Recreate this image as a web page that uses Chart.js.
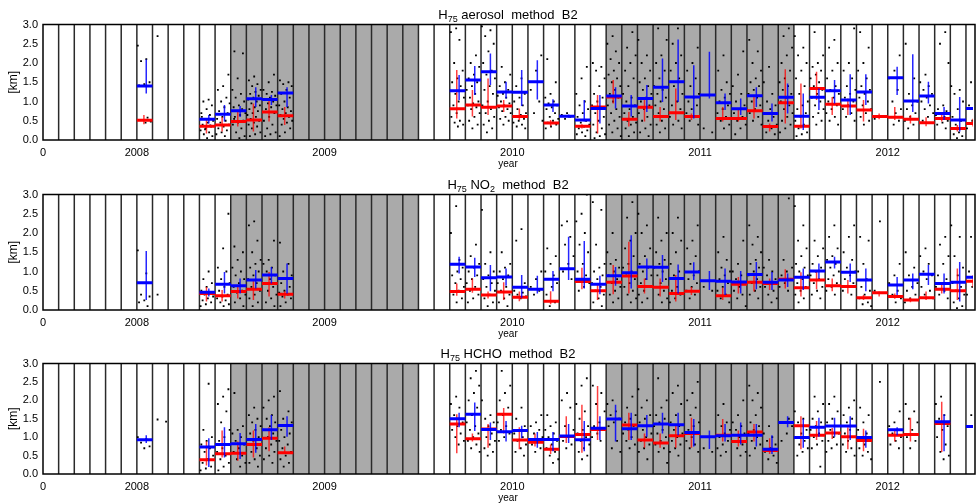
<!DOCTYPE html>
<html>
<head>
<meta charset="utf-8">
<script src="https://cdn.jsdelivr.net/npm/chart.js@4.4.0/dist/chart.umd.min.js"></script>
<style>
html, body { margin: 0; padding: 0; background: #fff; width: 977px; height: 504px; overflow: hidden; }
canvas { position: absolute; left: 0; }
</style>
</head>
<body>
<canvas id="c1" width="977" height="170" style="top:0px"></canvas>
<canvas id="c2" width="977" height="170" style="top:170px"></canvas>
<canvas id="c3" width="977" height="165" style="top:339px"></canvas>
<script>
// eje x: meses desde julio 2007
const xTickValues = [0, 6, 18, 30, 42, 54];
const xTickLabels = ['0', '2008', '2009', '2010', '2011', '2012'];
const xMax = 59.45;
const shadedPeriods = [[12, 24], [36, 48]];

// --- aerosol ---
const aerMonths = [6,10,11,12,13,14,15,26,27,28,29,30,31,32,33,34,35,36,37,38,39,40,41,42,43,44,45,46,47,48,49,50,51,52,53,54,55,56,57,58,59];
const aerBlue   = [1.40,0.54,0.67,0.76,1.07,1.05,1.22,1.28,1.56,1.77,1.25,1.24,1.51,0.91,0.62,0.52,0.82,1.14,0.88,1.08,1.37,1.51,1.12,1.17,0.97,0.81,1.15,0.69,1.11,0.62,1.11,1.28,1.04,1.25,null,1.62,1.01,1.14,0.69,0.52,0.82];
const aerBlueLo = [1.21,0.43,0.48,0.60,0.86,0.91,0.86,1.04,1.17,1.43,1.08,0.88,1.05,0.73,0.58,0.48,0.43,0.82,0.61,0.73,0.99,0.99,0.56,1.08,0.78,0.65,0.86,0.48,0.69,0.26,0.78,0.95,0.65,0.91,null,1.17,0.73,0.95,0.52,0.22,0.60];
const aerBlueHi = [2.09,0.65,0.91,0.88,1.37,1.17,1.37,1.69,1.92,2.25,1.51,1.82,2.07,1.06,0.66,1.04,1.17,1.37,1.17,1.43,2.12,2.61,1.94,2.29,1.21,1.08,1.37,0.95,1.47,1.21,1.34,1.56,1.71,1.71,null,1.90,2.23,1.51,0.86,1.12,1.00];
const aerRed    = [0.51,0.36,0.39,0.48,0.52,0.73,0.63,0.81,0.91,0.85,0.88,0.61,null,0.44,null,0.36,0.86,1.12,0.54,0.85,0.61,0.71,0.61,null,0.56,0.56,0.76,0.35,0.97,0.36,1.34,0.93,0.88,0.78,0.61,0.59,0.54,0.45,0.56,0.30,0.43];
const aerRedLo  = [0.41,0.17,0.22,0.35,0.22,0.48,0.39,0.56,0.61,0.65,0.73,0.52,null,0.36,null,0.30,0.17,0.95,0.35,0.48,0.48,0.52,0.52,null,0.48,0.48,0.56,0.22,0.43,0.30,1.04,0.65,0.65,0.48,0.54,0.52,0.43,0.36,0.48,0.22,0.35];
const aerRedHi  = [0.65,0.56,0.59,0.78,0.95,1.04,0.86,1.82,1.30,1.60,1.04,0.82,null,0.52,null,0.41,1.17,1.56,0.73,1.12,0.86,1.34,0.69,null,0.86,0.78,1.12,0.43,1.84,1.47,1.77,1.12,1.08,1.04,0.69,0.86,0.65,0.59,0.65,0.39,0.55];
const aerDotMonths = [6,7,10,11,12,13,14,15,26,27,28,29,30,31,32,33,34,35,36,37,38,39,40,41,42,43,44,45,46,47,48,49,50,51,52,53,54,55,56,57,58,59];
const aerDots = [
  [2.45,2.1,2.05,1.5,1.45,1.42,0.58,0.52,0.48,0.45],
  [2.7],
  [1.05,1.0,0.9,0.8,0.7,0.65,0.55,0.5,0.45,0.4,0.35,0.3,0.25,0.2,0.15,0.1,0.05,0.6,0.38,0.28],
  [1.7,1.4,1.3,1.1,1.0,0.95,0.85,0.75,0.7,0.6,0.55,0.5,0.45,0.4,0.35,0.3,0.25,0.2,0.15,0.1],
  [2.3,2.25,1.6,1.3,1.2,1.1,1.0,0.9,0.85,0.8,0.75,0.7,0.65,0.6,0.5,0.45,0.4,0.3,0.2,0.1,0.05,0.55],
  [1.65,1.55,1.45,1.4,1.3,1.25,1.2,1.15,1.1,1.05,1.0,0.95,0.9,0.85,0.8,0.75,0.7,0.65,0.6,0.55,0.5,0.45,0.4,0.35,0.3,0.2,0.15,0.1],
  [1.7,1.5,1.3,1.25,1.2,1.15,1.1,1.05,1.0,0.95,0.9,0.85,0.8,0.7,0.6,0.5,0.4,0.3,0.2,0.15,0.1],
  [1.55,1.5,1.45,1.4,1.3,1.2,1.1,1.0,0.9,0.85,0.8,0.75,0.7,0.65,0.6,0.55,0.5,0.45,0.4,0.3,0.2,0.1],
  [2.9,2.8,2.6,2.0,1.8,1.6,1.5,1.4,1.2,1.1,1.0,0.9,0.8,0.7,0.6,0.5,0.45,0.4,0.35],
  [2.2,2.0,1.9,1.7,1.6,1.5,1.4,1.3,1.2,1.1,1.0,0.95,0.9,0.85,0.8,0.7,0.6,0.5,0.4,0.3],
  [2.95,2.85,2.7,2.5,2.3,2.0,1.8,1.7,1.6,1.4,1.3,1.2,1.0,0.9,0.8,0.7,0.6,0.5,0.4,0.3,0.2],
  [1.9,1.7,1.5,1.4,1.3,1.2,1.15,1.1,1.0,0.95,0.9,0.85,0.8,0.75,0.7,0.6,0.55,0.5,0.4],
  [1.6,1.4,1.2,1.1,1.0,0.9,0.8,0.7,0.65,0.6,0.55,0.5,0.45,0.4,0.35,0.3],
  [2.2,1.8,1.3,1.0,0.7,0.5],
  [2.1,1.5,1.2,1.1,1.0,0.95,0.9,0.85,0.8,0.7,0.6,0.55,0.5,0.45,0.4,0.35,0.3],
  [0.7,0.65,0.6,0.55],
  [1.9,1.6,1.2,1.0,0.9,0.8,0.7,0.6,0.5,0.45,0.4,0.35,0.3,0.25,0.2,0.15,0.1],
  [2.0,1.9,1.8,1.6,1.4,1.2,1.1,1.0,0.9,0.8,0.7,0.6,0.5,0.4,0.3,0.2,0.15,0.1,0.05],
  [2.7,2.5,2.3,2.1,2.0,1.8,1.7,1.6,1.5,1.4,1.3,1.2,1.1,1.0,0.9,0.8,0.7,0.6,0.5,0.4,0.3,0.2,0.1],
  [2.8,2.4,2.2,2.0,1.8,1.6,1.4,1.2,1.1,1.0,0.9,0.8,0.7,0.6,0.5,0.45,0.4,0.3,0.2,0.1],
  [2.6,2.2,2.0,1.8,1.6,1.5,1.4,1.3,1.2,1.1,1.0,0.9,0.8,0.7,0.6,0.5,0.4,0.3,0.2,0.1],
  [2.9,2.6,2.2,2.0,1.8,1.6,1.4,1.3,1.2,1.1,1.0,0.9,0.8,0.7,0.6,0.5,0.4,0.3,0.2],
  [2.9,2.5,2.2,2.0,1.8,1.6,1.4,1.2,1.0,0.9,0.8,0.7,0.6,0.5,0.4,0.3],
  [2.4,2.0,1.8,1.6,1.4,1.2,1.1,1.0,0.9,0.8,0.7,0.6,0.5,0.4],
  [0.3,0.2],
  [2.2,1.8,1.5,1.3,1.2,1.1,1.0,0.9,0.8,0.7,0.6,0.5,0.4,0.3],
  [2.3,1.7,1.4,1.2,1.0,0.9,0.8,0.7,0.6,0.5,0.4,0.3,0.15],
  [2.6,2.3,2.0,1.8,1.6,1.5,1.4,1.3,1.2,1.1,1.0,0.9,0.8,0.7,0.6,0.5,0.4],
  [1.9,1.5,1.2,1.0,0.9,0.8,0.7,0.6,0.5,0.4,0.3,0.2,0.15],
  [2.9,2.7,2.4,2.2,2.0,1.8,1.6,1.5,1.4,1.3,1.2,1.1,1.0,0.9,0.8,0.7,0.6,0.5,0.4,0.3,0.2],
  [2.7,2.4,2.2,2.0,1.8,1.6,1.4,1.2,1.0,0.9,0.8,0.7,0.6,0.5,0.4,0.3,0.2,0.15,0.1],
  [2.8,2.2,2.0,1.9,1.8,1.7,1.6,1.5,1.4,1.3,1.2,1.1,1.0,0.9,0.8,0.7,0.6,0.5,0.4],
  [2.6,2.4,2.0,1.8,1.6,1.4,1.3,1.2,1.1,1.0,0.9,0.8,0.7,0.6,0.5,0.4],
  [2.9,2.0,1.8,1.6,1.4,1.3,1.2,1.1,1.0,0.9,0.8,0.7,0.6,0.5],
  [2.8,2.4,2.0,1.8,1.6,1.4,1.3,1.2,1.1,1.0,0.9,0.8,0.7,0.6,0.5,0.4],
  [0.6,0.55],
  [2.2,1.8,1.6,1.3,1.0,0.8,0.7,0.6,0.5,0.4],
  [2.5,1.6,1.2,1.0,0.9,0.8,0.7,0.6,0.5,0.4,0.3],
  [1.7,1.5,1.4,1.3,1.2,1.1,1.0,0.9,0.8,0.7,0.6,0.5],
  [2.8,2.5,2.0,0.9,0.8,0.75,0.7,0.65,0.6,0.55,0.5,0.45,0.4,0.3],
  [1.4,1.3,1.2,1.0,0.8,0.6,0.5,0.4,0.3,0.2,0.15,0.1,0.05],
  [1.5,1.3,1.1,0.9,0.7,0.5,0.3]
];

// --- NO2 ---
const no2Months = aerMonths;
const no2Blue   = [0.71,0.46,0.67,0.63,0.78,0.91,0.82,1.19,1.12,0.84,0.86,0.59,0.54,0.80,1.07,0.80,0.67,0.89,0.97,1.12,1.11,0.82,0.99,0.76,0.75,0.73,0.92,0.72,0.78,0.85,1.01,1.25,0.98,0.78,null,0.65,0.78,0.93,0.69,0.72,0.85];
const no2BlueLo = [0.26,0.35,0.43,0.43,0.56,0.69,0.43,0.95,0.86,0.49,0.63,0.32,0.43,0.49,0.78,0.56,0.41,0.63,0.56,0.78,0.73,0.43,0.78,0.52,0.39,0.43,0.54,0.52,0.60,0.52,0.82,1.08,0.73,0.49,null,0.39,0.54,0.65,0.43,0.22,0.62];
const no2BlueHi = [1.53,0.56,0.99,0.82,1.04,1.12,1.21,1.38,1.36,1.17,1.08,0.91,0.89,1.01,1.90,1.79,0.89,1.12,1.94,1.34,1.43,1.18,1.24,1.01,1.08,1.01,1.25,0.99,0.95,1.08,1.21,1.38,1.21,1.08,null,0.86,0.95,1.17,0.95,1.25,1.05];
const no2Red    = [null,0.43,0.37,0.48,0.54,0.69,0.41,0.48,0.54,0.39,0.47,0.33,null,0.23,null,0.74,0.50,0.72,0.88,0.61,0.59,0.43,0.49,null,0.37,0.67,0.72,0.69,0.80,0.58,0.78,0.63,0.61,0.32,0.45,0.35,0.26,0.32,0.54,0.50,0.75];
const no2RedLo  = [null,0.22,0.22,0.30,0.26,0.35,0.30,0.37,0.45,0.30,0.26,0.23,null,0.15,null,0.54,0.26,0.41,0.43,0.43,0.35,0.22,0.39,null,0.26,0.43,0.48,0.52,0.56,0.35,0.54,0.49,0.43,0.26,0.35,0.29,0.20,0.26,0.43,0.26,0.60];
const no2RedHi  = [null,0.60,0.52,0.65,0.78,0.99,0.49,0.69,0.82,0.48,0.72,0.48,null,0.49,null,1.10,0.69,1.17,1.77,0.82,0.82,0.91,0.60,null,0.58,0.86,0.91,0.82,1.06,0.98,0.99,0.82,0.78,0.39,0.48,0.43,0.32,0.48,0.65,1.08,0.90];
const no2DotMonths = aerDotMonths;
const no2Dots = [
  [1.55,0.95,0.4,0.35,0.25,0.2,0.1],
  [0.4],
  [1.0,0.8,0.7,0.6,0.5,0.45,0.4,0.35,0.3,0.25,0.2,0.15,0.1],
  [2.5,1.6,1.1,1.0,0.8,0.7,0.6,0.5,0.4,0.35,0.3,0.25,0.2,0.15,0.1],
  [1.65,1.5,1.3,1.1,1.0,0.9,0.8,0.7,0.6,0.5,0.45,0.4,0.3,0.2,0.1],
  [2.3,2.2,1.8,1.5,1.3,1.2,1.1,1.0,0.9,0.8,0.7,0.6,0.5,0.4,0.3,0.2,0.1],
  [1.8,1.3,1.2,1.1,1.0,0.9,0.8,0.7,0.6,0.5,0.4,0.3,0.2,0.1],
  [1.75,1.2,1.0,0.9,0.8,0.7,0.6,0.5,0.45,0.4,0.35,0.3,0.2,0.1],
  [2.7,2.0,1.3,1.2,1.1,1.0,0.9,0.8,0.7,0.6,0.5,0.4,0.3,0.2],
  [1.7,1.4,1.2,1.1,1.0,0.9,0.8,0.7,0.6,0.5,0.4,0.3,0.2],
  [2.6,1.5,1.2,1.0,0.9,0.8,0.7,0.6,0.5,0.4,0.3,0.2,0.1],
  [1.5,1.2,1.1,1.0,0.9,0.8,0.7,0.6,0.5,0.4,0.3,0.2,0.1],
  [2.1,1.8,0.7,0.6,0.5,0.45,0.4,0.35,0.3],
  [1.0,0.8,0.6,0.5,0.4],
  [1.6,1.4,1.2,1.0,0.9,0.8,0.7,0.6,0.4,0.2,0.1],
  [2.3,2.2,1.9,1.7,1.4,1.2,1.0,0.8],
  [3.0,2.5,2.3,2.0,1.7,1.5,1.2,1.0,0.9,0.8,0.7,0.6,0.5],
  [2.8,2.6,1.7,1.2,1.1,1.0,0.9,0.8,0.7,0.6,0.5,0.4,0.3,0.2,0.1],
  [2.0,1.5,1.3,1.2,1.1,1.0,0.9,0.8,0.7,0.6,0.5,0.4,0.3,0.2],
  [2.8,2.4,2.0,1.8,1.6,1.4,1.2,1.1,1.0,0.9,0.8,0.7,0.6,0.5,0.4,0.3,0.2],
  [2.5,2.2,2.0,1.6,1.4,1.2,1.1,1.0,0.9,0.8,0.7,0.6,0.5,0.4,0.3,0.2],
  [2.4,2.0,1.8,1.5,1.3,1.2,1.1,1.0,0.9,0.8,0.7,0.6,0.5,0.4,0.3,0.2],
  [2.4,2.0,1.8,1.5,1.2,1.0,0.9,0.8,0.6,0.5,0.4,0.3,0.2],
  [2.2,1.8,1.6,1.4,1.2,1.0,0.9,0.8,0.7,0.6,0.5,0.4,0.3],
  [0.6,0.5],
  [1.9,1.5,1.3,1.1,1.0,0.9,0.8,0.7,0.6,0.5,0.4,0.3,0.2],
  [1.8,1.2,1.0,0.9,0.8,0.7,0.6,0.5,0.4,0.3,0.1],
  [2.2,1.9,1.7,1.5,1.3,1.2,1.1,1.0,0.9,0.8,0.7,0.6,0.5,0.4,0.3],
  [1.3,1.1,1.0,0.9,0.8,0.7,0.6,0.5,0.4,0.3,0.2],
  [2.9,1.3,1.1,1.0,0.9,0.8,0.7,0.6,0.5],
  [2.7,2.2,1.8,1.6,1.4,1.2,1.1,1.0,0.9,0.8,0.7,0.6,0.5,0.4,0.3,0.2],
  [1.8,1.6,1.4,1.2,1.1,1.0,0.9,0.8,0.7,0.6,0.5,0.4,0.3],
  [2.2,1.9,1.6,1.4,1.3,1.2,1.1,1.0,0.9,0.8,0.7,0.6,0.5,0.4],
  [2.2,1.9,1.5,1.3,1.1,1.0,0.9,0.8,0.7,0.6,0.5,0.4],
  [1.9,1.8,1.2,1.0,0.8,0.6,0.5,0.4,0.3,0.2,0.15,0.1],
  [2.3,0.5],
  [1.2,0.9,0.7,0.5,0.4,0.3,0.2],
  [1.5,1.1,0.9,0.7,0.6,0.5,0.4,0.3,0.2],
  [1.6,1.4,1.2,1.0,0.9,0.8,0.6,0.5,0.4,0.3],
  [1.9,1.7,1.4,1.2,0.9,0.8,0.7,0.6,0.5,0.4,0.3],
  [2.2,1.9,1.4,1.1,0.9,0.7,0.6,0.5,0.4,0.3,0.2,0.1,0.05],
  [1.9,1.5,1.2,1.0,0.8,0.6,0.4,0.3]
];

// --- HCHO ---
const hchoMonths = [6,10,11,12,13,14,15,26,27,28,29,30,31,32,33,34,35,36,37,38,39,40,41,42,43,44,45,46,47,48,49,50,51,52,54,55,57,59];
const hchoBlue   = [0.93,0.73,0.80,0.82,0.94,1.20,1.32,1.50,1.62,1.21,1.15,1.18,0.94,0.94,1.03,0.93,1.24,1.49,1.23,1.31,1.36,1.34,1.13,1.01,1.04,1.05,1.05,0.67,1.40,0.99,1.27,1.30,1.30,0.99,1.20,null,1.42,1.29];
const hchoBlueLo = [0.84,0.19,0.45,0.41,0.58,0.92,1.01,1.27,1.17,0.92,0.88,0.97,0.71,0.62,0.84,0.62,0.92,0.88,0.92,1.01,1.10,1.05,0.75,0.68,0.88,0.80,0.75,0.54,1.27,0.71,1.01,1.01,0.92,0.71,1.05,null,0.62,1.10];
const hchoBlueHi = [1.05,0.97,1.27,1.11,1.36,1.60,1.57,1.66,1.94,1.40,1.44,1.31,1.14,1.14,1.36,1.44,1.57,1.88,1.66,1.60,1.66,1.66,1.49,1.18,1.36,1.40,1.36,1.05,1.57,1.49,1.53,1.53,1.57,1.18,1.27,null,1.62,1.50];
const hchoRed    = [null,0.39,0.55,0.56,0.80,0.97,0.58,1.36,0.96,1.22,1.62,0.92,0.86,0.67,1.02,1.07,1.21,null,1.33,0.92,0.84,1.04,1.10,null,1.05,0.88,1.14,0.64,null,1.31,1.05,1.11,1.01,0.91,1.05,1.07,1.37,null];
const hchoRedLo  = [null,0.23,0.45,0.36,0.45,0.62,0.54,0.56,0.88,0.71,1.10,0.67,0.75,0.54,0.84,0.58,0.92,null,0.92,0.71,0.71,0.71,0.71,null,0.88,0.75,0.88,0.54,null,0.67,0.92,0.95,0.67,0.62,0.88,0.88,0.60,null];
const hchoRedHi  = [null,0.88,1.18,0.88,1.18,1.27,0.75,1.62,1.10,1.36,1.79,1.27,1.10,0.80,1.57,1.88,2.39,null,1.66,1.10,1.10,1.36,1.53,null,1.49,1.18,1.36,0.97,null,1.57,1.44,1.25,1.27,1.23,1.23,1.53,1.96,null];
const hchoDotMonths = [6,7,10,11,12,13,14,15,26,27,28,29,30,31,32,33,34,35,36,37,38,39,40,41,42,43,44,45,46,47,48,49,50,51,52,53,54,55,57,59];
const hchoDots = [
  [1.0,0.95,0.85,0.75,0.7],
  [1.48,1.42],
  [2.45,1.2,1.0,0.9,0.8,0.7,0.6,0.5,0.4,0.3,0.2,0.15,0.1],
  [2.3,2.1,1.9,1.7,1.4,1.2,1.0,0.9,0.8,0.7,0.6,0.5,0.4,0.3,0.2,0.1],
  [2.2,1.3,1.2,1.1,1.0,0.9,0.8,0.7,0.6,0.5,0.4,0.3,0.2],
  [1.8,1.6,1.5,1.4,1.3,1.2,1.1,1.0,0.9,0.8,0.7,0.6,0.5,0.4,0.3,0.2],
  [2.1,2.0,1.8,1.6,1.5,1.4,1.3,1.2,1.1,1.0,0.9,0.8,0.7,0.6,0.5,0.4,0.3],
  [2.25,1.7,1.5,1.4,1.3,1.2,1.1,1.0,0.9,0.8,0.7,0.6,0.5,0.4,0.3,0.2],
  [2.1,1.9,1.8,1.6,1.4,1.3,1.2,1.1,1.0,0.9,0.8],
  [2.8,2.6,2.4,2.2,2.0,1.8,1.6,1.4,1.3,1.2,1.1,1.0,0.9,0.8,0.7,0.6],
  [2.0,1.6,1.5,1.4,1.3,1.2,1.1,1.0,0.9,0.8,0.7,0.6,0.5],
  [2.8,2.4,2.2,2.0,1.8,1.6,1.4,1.3,1.2,1.1,1.0,0.9],
  [1.8,1.5,1.3,1.2,1.1,1.0,0.9,0.8,0.7,0.6,0.5],
  [1.6,1.4,1.3,1.2,1.1,1.0,0.9,0.8,0.7,0.6],
  [1.6,1.4,1.3,1.2,1.1,1.0,0.9,0.8,0.7,0.6,0.5,0.4,0.3],
  [2.2,2.0,1.8,1.3,1.2,1.0,0.9,0.8,0.7],
  [2.6,2.4,1.9,1.7,1.5,1.3,1.2,1.1,1.0,0.9,0.8,0.7,0.6,0.5,0.4],
  [2.4,2.2,1.9,1.7,1.4,1.3,1.2,1.1,1.0,0.9],
  [2.0,1.9,1.7,1.6,1.5,1.4,1.3,0.9,0.7,0.6],
  [2.1,1.8,1.6,1.5,1.4,1.3,1.2,1.1,1.0,0.9,0.8,0.7],
  [2.3,2.0,1.8,1.6,1.5,1.4,1.3,1.2,1.1,1.0,0.9,0.8,0.7,0.6,0.4],
  [2.6,2.0,1.8,1.6,1.5,1.4,1.3,1.2,1.1,1.0,0.9,0.8,0.7,0.6,0.3],
  [2.4,2.2,1.9,1.6,1.4,1.3,1.2,1.1,1.0,0.9,0.8,0.7,0.6,0.5],
  [2.5,2.2,2.0,1.8,1.6,1.4,1.3,1.2,1.1,1.0,0.9,0.8,0.7,0.6],
  [0.7,0.6],
  [1.9,1.6,1.4,1.3,1.2,1.1,1.0,0.9,0.8,0.7,0.6,0.5],
  [2.0,1.6,1.4,1.3,1.2,1.1,1.0,0.9,0.8,0.7,0.6,0.5],
  [2.4,2.2,2.0,1.8,1.6,1.4,1.3,1.2,1.1,1.0,0.9,0.8,0.7,0.5],
  [1.3,1.1,1.0,0.9,0.8,0.7,0.6,0.5,0.4,0.3],
  [1.5,1.4,1.3,1.1,0.9],
  [1.7,1.5,1.4,1.2,1.1,1.0,0.9,0.8,0.7,0.6,0.5],
  [2.1,1.9,1.7,1.5,1.4,1.3,1.2,1.1,1.0,0.9,0.8,0.7,0.2],
  [2.1,1.9,1.7,1.5,1.4,1.3,1.2,1.1,1.0,0.9,0.8,0.7,0.6],
  [2.0,1.8,1.6,1.5,1.4,1.3,1.2,1.1,1.0,0.9,0.8,0.7,0.6,0.5],
  [1.8,1.6,1.4,1.2,1.1,1.0,0.9,0.8,0.7,0.6,0.5,0.4],
  [2.5],
  [1.7,1.4,1.3,1.2,1.1,1.0,0.9,0.8,0.7],
  [1.9,1.7,1.5,1.4,1.2,1.0,0.9,0.7],
  [2.1,1.9,1.6,1.5,1.3,1.2,1.0,0.8,0.6,0.5,0.4],
  [2.0,1.6,1.1,0.7]
];

// títulos con subíndices
const titleAer  = [['H', false], ['75', true], [' aerosol  method  B2', false]];
const titleNo2  = [['H', false], ['75', true], [' NO', false], ['2', true], ['  method  B2', false]];
const titleHcho = [['H', false], ['75', true], [' HCHO  method  B2', false]];

const FONT = 'Liberation Sans, Arial, sans-serif';

// barras tipo cruz: horizontal = mes completo, vertical = rango
function crucesH(months, vals) {
    const pts = [];
    months.forEach((m, i) => {
        if (vals[i] == null) return;
        pts.push({x: m, y: vals[i]}, {x: m + 1, y: vals[i]}, {x: m + 1, y: null});
    });
    return pts;
}
function crucesV(months, vals, lo, hi, off) {
    const pts = [];
    months.forEach((m, i) => {
        if (vals[i] == null) return;
        pts.push({x: m + off, y: lo[i]}, {x: m + off, y: hi[i]}, {x: m + off, y: null});
    });
    return pts;
}
function puntos(dotMonths, dots) {
    const pts = [];
    dotMonths.forEach((m, j) => {
        dots[j].forEach((v, i) => {
            // reparto dentro del mes (fecha no legible)
            pts.push({x: m + 0.06 + 0.88 * ((i * 0.618034 + j * 0.3) % 1), y: v});
        });
    });
    return pts;
}

const decorPanel = {
    id: 'decorPanel',
    beforeDatasetsDraw(chart) {
        const {ctx, chartArea: a, scales: {x}} = chart;
        ctx.save();
        ctx.fillStyle = '#aaaaaa';
        shadedPeriods.forEach(([s, e]) => {
            const x0 = x.getPixelForValue(s), x1 = x.getPixelForValue(e);
            ctx.fillRect(x0, a.top, x1 - x0, a.bottom - a.top);
        });
        ctx.strokeStyle = '#2a2a2a';
        ctx.lineWidth = 1.5;
        for (let m = 1; m < xMax; m++) {
            const px = x.getPixelForValue(m);
            ctx.beginPath();
            ctx.moveTo(px, a.top);
            ctx.lineTo(px, a.bottom);
            ctx.stroke();
        }
        ctx.restore();
    },
    afterDraw(chart, args, opts) {
        const {ctx, chartArea: a} = chart;
        ctx.save();
        ctx.strokeStyle = '#000';
        ctx.lineWidth = 1.5;
        ctx.strokeRect(a.left, a.top, a.right - a.left + 2, a.bottom - a.top);
        // título
        const partes = opts.titulo || [];
        let ancho = 0;
        partes.forEach(([t, sub]) => {
            ctx.font = (sub ? '9px ' : '13px ') + FONT;
            ancho += ctx.measureText(t).width;
        });
        let px = (a.left + a.right) / 2 - ancho / 2;
        ctx.fillStyle = '#000';
        ctx.textBaseline = 'alphabetic';
        partes.forEach(([t, sub]) => {
            ctx.font = (sub ? '9px ' : '13px ') + FONT;
            ctx.fillText(t, px, sub ? 22 : 19);
            px += ctx.measureText(t).width;
        });
        ctx.restore();
    }
};

function crearPanel(id, titulo, months, blue, blueLo, blueHi, red, redLo, redHi, dotMonths, dots) {
    const ctx = document.getElementById(id).getContext('2d');
    new Chart(ctx, {
        type: 'scatter',
        data: {
            datasets: [
                {data: crucesH(months, blue), showLine: true, borderColor: '#0000ff', borderWidth: 3, pointRadius: 0, spanGaps: false},
                {data: crucesV(months, blue, blueLo, blueHi, 0.6), showLine: true, borderColor: 'rgba(0,0,255,0.85)', borderWidth: 1.5, pointRadius: 0, spanGaps: false},
                {data: crucesH(months, red), showLine: true, borderColor: '#ff0000', borderWidth: 3, pointRadius: 0, spanGaps: false},
                {data: crucesV(months, red, redLo, redHi, 0.45), showLine: true, borderColor: 'rgba(255,0,0,0.75)', borderWidth: 1.5, pointRadius: 0, spanGaps: false},
                {data: puntos(dotMonths, dots), pointStyle: 'rect', pointRadius: 1.3, backgroundColor: '#000', borderWidth: 0}
            ]
        },
        options: {
            responsive: false,
            animation: false,
            events: [],
            layout: {padding: {top: 24.5, right: 0, bottom: 0, left: 0}},
            plugins: {legend: {display: false}, tooltip: {enabled: false}, decorPanel: {titulo: titulo}},
            scales: {
                x: {
                    type: 'linear', min: 0, max: xMax,
                    grid: {display: false, drawTicks: false},
                    border: {display: false},
                    afterBuildTicks: s => { s.ticks = xTickValues.map(v => ({value: v})); },
                    afterFit: s => { s.height = 30; },
                    ticks: {
                        autoSkip: false, maxRotation: 0, padding: 6, color: '#000',
                        font: {family: FONT, size: 11},
                        callback: v => xTickLabels[xTickValues.indexOf(v)]
                    },
                    title: {display: true, text: 'year', color: '#000', font: {family: FONT, size: 10}, padding: {top: 0, bottom: 0}}
                },
                y: {
                    min: 0, max: 3,
                    grid: {display: false, drawTicks: false},
                    border: {display: false},
                    afterFit: s => { s.width = 43; },
                    ticks: {stepSize: 0.5, padding: 5, color: '#000', font: {family: FONT, size: 11},
                        callback: v => Number(v).toFixed(1)},
                    title: {display: true, text: '[km]', color: '#000', font: {family: FONT, size: 12}, padding: {top: 6, bottom: 0}}
                }
            }
        },
        plugins: [decorPanel]
    });
}

crearPanel('c1', titleAer, aerMonths, aerBlue, aerBlueLo, aerBlueHi, aerRed, aerRedLo, aerRedHi, aerDotMonths, aerDots);
crearPanel('c2', titleNo2, no2Months, no2Blue, no2BlueLo, no2BlueHi, no2Red, no2RedLo, no2RedHi, no2DotMonths, no2Dots);
crearPanel('c3', titleHcho, hchoMonths, hchoBlue, hchoBlueLo, hchoBlueHi, hchoRed, hchoRedLo, hchoRedHi, hchoDotMonths, hchoDots);
</script>
</body>
</html>
